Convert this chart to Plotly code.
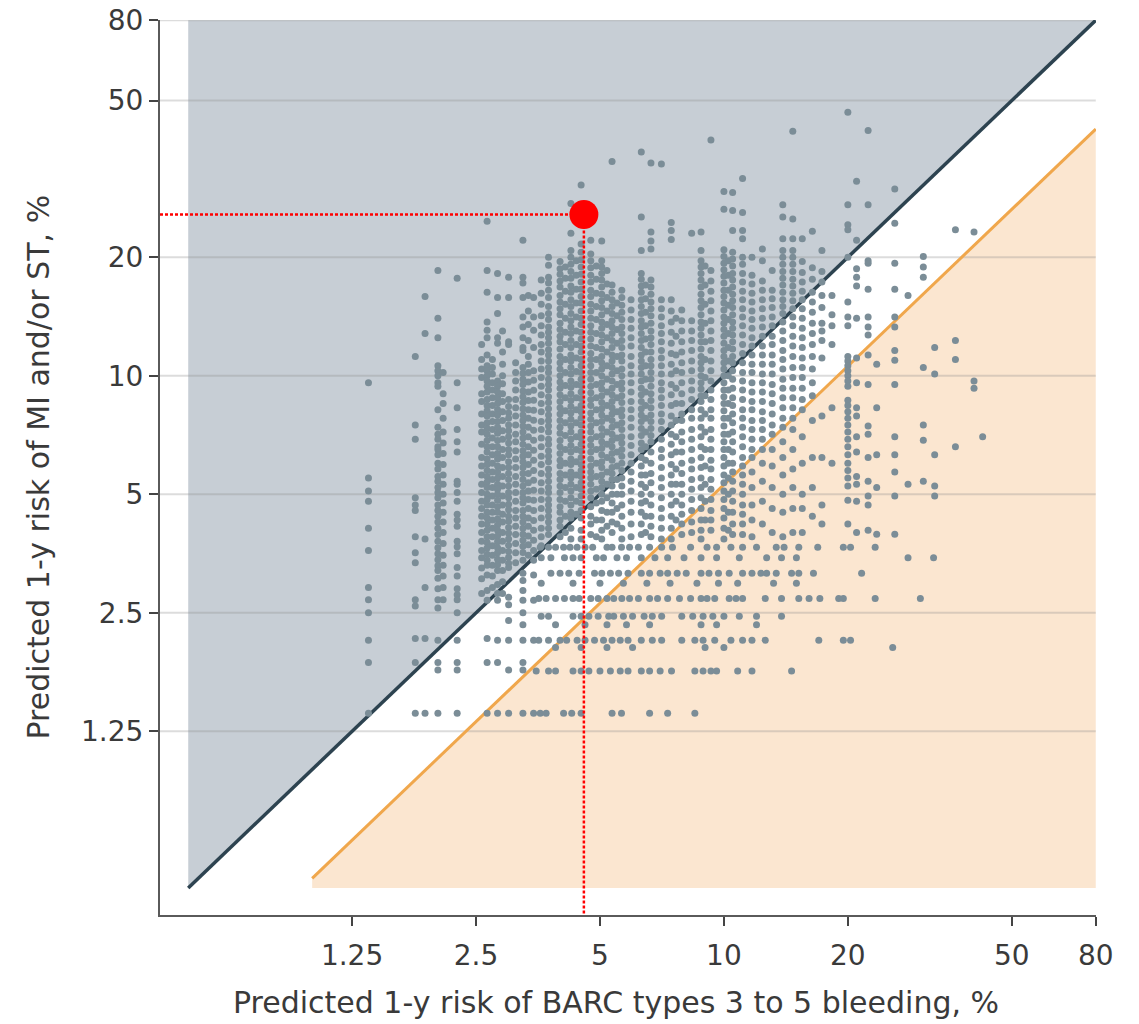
import math
import plotly.graph_objects as go

# ---------------- data ----------------
# Vertical stripes of patients: x = predicted bleeding risk (%), y-list = predicted MI/ST risk (%)
col_x = [1.37, 1.78, 1.88, 2.02, 2.08, 2.25, 2.58, 2.66, 2.74, 2.82, 2.9, 3.0, 3.12, 3.25,
         3.35, 3.45, 3.6, 3.75, 4.0, 4.12, 4.25, 4.38, 4.5, 4.75, 4.9, 5.05, 5.2, 5.35,
         5.5, 5.65, 5.95, 6.3, 6.45, 6.65, 7.05, 7.45, 7.65, 7.9, 8.35, 8.8, 9.0, 9.3,
         10.0, 10.25, 10.5, 11.1, 11.7, 12.4, 13.1, 13.9, 14.7, 15.5, 16.4, 17.3, 18.3,
         20.0, 21.0, 22.4, 23.5, 26.0, 28.0, 30.5, 32.5, 36.5, 40.5, 42.5]
col_y = [
    "9.6 5.5 5.1 4.8 4.1 3.6 2.9 2.7 2.5 2.13 1.87 1.39",
    "11.2 7.5 6.9 4.9 4.7 4.55 3.9 3.55 3.35 2.7 2.6 2.15 1.87 1.39",
    "15.9 12.8 3.85 2.9 2.15 1.39",
    "18.5 14.0 12.5 10.6 10.3 10.0 9.6 9.4 8.2 7.4 7.1 6.9 6.6 6.5 6.3 6.0 5.8 5.55 5.4 5.2 5.05 4.9 4.7 4.55 4.4 4.25 4.1 3.95 3.8 3.66 3.53 3.41 3.29 3.2 3.06 2.88 2.7 2.57 2.13 1.87 1.79 1.39",
    "10.2 9.0 8.5 7.8 7.2 6.75 6.35 5.95 5.6 5.3 5.0 4.75 4.5 4.25 4.0 3.75 3.5 3.3 3.1 2.9 2.7",
    "17.7 9.6 8.3 7.3 6.8 6.4 5.4 5.3 5.05 4.8 4.45 4.3 4.15 3.8 3.68 3.53 3.26 3.1 2.88 2.78 2.7 2.5 2.13 1.87 1.79 1.39",
    "12.0 11.0 10.4 9.9 9.0 8.6 8.0 7.5 7.2 6.7 6.2 5.9 5.6 5.3 5.05 4.8 4.6 4.4 4.2 4.0 3.8 3.6 3.45 3.25 3.05 2.8",
    "24.7 18.5 16.3 13.7 13.05 12.5 11.3 10.6 10.3 10.0 9.7 9.4 9.1 8.7 8.4 8.15 7.9 7.6 7.35 7.1 6.85 6.6 6.4 6.15 5.95 5.75 5.55 5.37 5.2 5.0 4.85 4.7 4.5 4.35 4.2 4.05 3.9 3.77 3.65 3.52 3.4 3.3 3.12 2.85 2.69 2.15 1.87 1.39",
    "11.0 10.5 10.1 9.6 9.2 8.8 8.4 8.0 7.65 7.3 6.95 6.6 6.3 6.0 5.7 5.45 5.2 4.95 4.7 4.5 4.3 4.1 3.9 3.7 3.5 3.3 3.1 2.9",
    "18.2 15.8 14.4 12.5 12.1 9.7 9.4 9.1 8.8 8.5 8.2 7.95 7.65 7.4 7.15 6.85 6.6 6.35 6.15 5.9 5.7 5.5 5.3 5.15 5.0 4.83 4.65 4.5 4.33 4.18 4.05 3.92 3.79 3.66 3.55 3.42 3.31 3.2 2.95 2.8 2.69 2.13 1.87 1.39",
    "13.0 11.5 10.7 10.0 9.55 9.0 8.6 8.1 7.7 7.25 6.9 6.5 6.2 5.85 5.55 5.25 4.95 4.7 4.45 4.25 4.0 3.8 3.6 3.4 3.2 3.0 2.8",
    "17.8 15.8 12.2 12.0 8.7 8.35 8.05 7.8 7.5 7.25 7.0 6.75 6.5 6.3 6.05 5.85 5.65 5.45 5.25 5.05 4.9 4.72 4.57 4.4 4.27 4.12 3.98 3.85 3.71 3.58 3.46 3.34 3.26 2.74 2.62 2.39 2.13 1.79 1.39",
    "10.8 10.2 9.7 9.2 8.7 8.3 7.9 7.5 7.1 6.8 6.45 6.15 5.85 5.55 5.3 5.05 4.8 4.55 4.35 4.15 3.95 3.75 3.55 3.35",
    "22.1 17.8 17.2 15.8 14.1 13.3 12.5 11.8 11.6 10.5 10.15 9.8 9.5 9.15 8.85 8.55 8.25 7.95 7.7 7.45 7.2 6.95 6.7 6.45 6.25 6.05 5.85 5.65 5.45 5.25 5.05 4.9 4.75 4.55 4.4 4.25 4.1 3.96 3.82 3.69 3.56 3.4 3.15 3.02 2.85 2.69 2.5 2.33 2.13 1.87 1.79 1.39",
    "16.0 14.6 13.5 12.3 11.2 10.7 10.2 9.65 9.1 8.65 8.2 7.8 7.4 7.0 6.6 6.3 5.95 5.65 5.35 5.1 4.85 4.6 4.35 4.15 3.92 3.72 3.5",
    "15.8 14.1 13.05 11.8 10.3 9.74 9.19 8.67 8.17 7.71 7.27 6.86 6.47 6.1 5.75 5.43 5.12 4.83 4.55 4.29 4.05 3.82 3.6 3.4 3.12 2.69 2.13 1.39",
    "17.5 16.2 15.2 14.2 13.4 12.7 12.0 11.5 10.9 10.4 9.9 9.4 8.95 8.5 8.1 7.65 7.3 6.95 6.6 6.25 5.95 5.65 5.35 5.1 4.85 4.6 4.35 4.1 3.9 3.7",
    "20.0 19.1 17.8 17.2 16.5 15.8 15.0 14.4 13.9 13.3 12.9 12.5 12.1 11.65 11.3 10.9 10.5 10.2 9.8 9.5 9.2 8.85 8.55 8.25 7.95 7.7 7.45 7.2 6.9 6.7 6.45 6.25 6.05 5.8 5.6 5.4 5.2 5.05 4.85 4.7 4.55 4.4 4.25 4.1 3.95",
    "19.5 18.7 18.1 17.4 16.8 16.0 15.4 14.8 14.3 13.6 13.1 12.6 12.2 11.7 11.2 10.8 10.4 10.0 9.65 9.3 8.95 8.6 8.3 8.0 7.7 7.4 7.15 6.85 6.6 6.35 6.1 5.9 5.65 5.45 5.25 5.05 4.85 4.65 4.5 4.3 4.15 3.9",
    "18.9 17.7 16.4 15.2 14.0 12.9 12.0 11.0 10.2 9.45 8.8 8.15 7.6 7.05 6.5 6.0 5.6 5.2 4.8 4.4 4.0",
    "27.4 23.0 20.8 20.0 19.2 18.4 17.7 16.9 16.3 15.6 15.0 14.4 13.8 13.3 12.8 12.3 11.8 11.3 10.9 10.5 10.1 9.7 9.35 9.0 8.65 8.35 8.05 7.75 7.45 7.2 6.9 6.65 6.4 6.15 5.95 5.7 5.5 5.3 5.1 4.9 4.7 4.5 4.35 4.1 3.85",
    "19.6 18.0 16.6 15.3 14.1 13.0 12.0 11.1 10.25 9.5 8.8 8.2 7.6 7.0 6.5 6.05 5.6 5.2 4.8 4.45",
    "30.5 21.6 20.6 19.7 18.9 18.1 17.3 16.6 15.9 15.3 14.6 14.0 13.5 12.9 12.4 11.9 11.5 11.0 10.6 10.2 9.8 9.45 9.1 8.75 8.4 8.1 7.8 7.5 7.2 6.95 6.7 6.45 6.2 5.95 5.75 5.55 5.35 5.15 4.95 4.75 4.55 4.35 4.05 3.85",
    "22.1 20.4 19.6 18.8 18.0 17.3 16.5 15.9 15.2 14.6 14.0 13.4 12.9 12.4 11.9 11.4 11.0 10.6 10.2 9.8 9.4 9.05 8.7 8.4 8.05 7.75 7.45 7.2 6.9 6.65 6.4 6.15 5.9 5.7 5.5 5.3 5.1 4.9 4.65 4.4 4.2 3.95",
    "19.0 17.6 16.2 15.0 13.9 12.8 11.8 11.0 10.2 9.5 8.8 8.2 7.6 7.0 6.5 6.0 5.55 5.15 4.75 4.3 3.9",
    "22.0 19.6 18.9 18.2 17.5 16.8 16.1 15.5 14.9 14.3 13.7 13.2 12.7 12.2 11.7 11.2 10.8 10.4 10.0 9.6 9.25 8.9 8.55 8.25 7.95 7.65 7.35 7.05 6.8 6.55 6.3 6.05 5.85 5.6 5.4 5.2 5.0 4.8 4.55 4.3 4.05 3.85",
    "18.5 17.1 15.8 14.6 13.5 12.5 11.5 10.6 9.8 9.1 8.4 7.8 7.2 6.7 6.2 5.7 5.3 4.9 4.5 4.15",
    "35.0 17.0 16.3 15.6 15.0 14.4 13.8 13.3 12.8 12.3 11.8 11.3 10.9 10.5 10.1 9.7 9.3 8.95 8.6 8.3 8.0 7.7 7.4 7.1 6.85 6.6 6.35 6.1 5.85 5.65 5.45 5.25 5.0 4.75 4.5 4.25 4.0",
    "15.3 14.2 13.1 12.1 11.2 10.3 9.5 8.8 8.1 7.5 6.95 6.4 5.9 5.45 5.0 4.6 4.2",
    "16.5 15.8 15.1 14.5 13.9 13.3 12.8 12.3 11.8 11.3 10.9 10.4 10.0 9.6 9.25 8.9 8.55 8.2 7.9 7.6 7.3 7.0 6.75 6.5 6.25 6.0 5.75 5.5 5.25 5.0 4.7 4.4 4.1 3.85",
    "15.6 14.7 13.9 13.2 12.5 11.9 11.2 10.6 10.1 9.6 9.1 8.6 8.2 7.8 7.4 7.0 6.65 6.3 6.0 5.7 5.4 5.1 4.8 4.5 4.2 3.9",
    "37.0 25.3 20.8 18.2 17.6 16.9 16.3 15.6 15.0 14.4 13.8 13.3 12.8 12.3 11.8 11.3 10.9 10.5 10.1 9.7 9.3 8.95 8.6 8.25 7.95 7.65 7.35 7.05 6.75 6.5 6.2 5.9 5.6 5.3 5.0 4.75 4.5 4.2 3.95",
    "17.0 15.7 14.5 13.4 12.4 11.5 10.6 9.8 9.1 8.4 7.8 7.2 6.6 6.1 5.6 5.2 4.8 4.4 4.0",
    "34.7 23.2 22.0 21.0 17.5 16.8 16.1 15.4 14.8 14.2 13.6 13.0 12.5 12.0 11.5 11.0 10.6 10.2 9.8 9.4 9.0 8.65 8.3 7.95 7.65 7.35 7.05 6.8 6.4 6.0 5.65 5.35 5.0 4.7 4.4 4.15 3.9",
    "34.5 15.6 14.8 14.1 13.4 12.8 12.2 11.6 11.1 10.6 10.1 9.6 9.2 8.8 8.4 8.0 7.65 7.3 6.9 6.5 6.2 5.85 5.5 5.2 4.9 4.6 4.35 4.1 3.85",
    "24.5 23.4 22.2 15.6 14.6 13.7 12.9 12.1 11.4 10.7 10.1 9.5 8.95 8.4 7.9 7.5 7.1 6.7 6.3 5.95 5.6 5.3 5.0 4.7 4.4 4.1 3.85",
    "14.0 12.6 11.3 10.3 9.3 8.5 7.7 7.0 6.4 5.8 5.3 4.8 4.3",
    "14.7 13.8 13.0 12.2 11.5 10.8 10.2 9.6 9.0 8.5 8.0 7.7 7.2 6.8 6.4 6.0 5.65 5.3 5.0 4.7 4.45 4.2 3.95",
    "23.0 13.8 13.0 12.3 11.6 10.9 10.3 9.7 9.2 8.7 8.2 7.8 7.3 6.9 6.5 6.1 5.8 5.45 5.15 4.85 4.55 4.25 4.0",
    "23.2 20.8 19.6 18.9 18.2 17.5 16.8 16.1 15.5 14.9 14.3 13.7 13.2 12.7 12.2 11.7 11.2 10.8 10.4 10.0 9.6 9.25 8.9 8.6 8.2 7.8 7.4 7.0 6.6 6.2 5.85 5.5 5.2 4.9 4.6 4.3 4.05 3.85",
    "19.0 17.0 15.2 13.6 12.2 11.0 9.9 8.9 8.0 7.2 6.5 5.9 5.3 4.8 4.3",
    "39.7 18.5 17.4 16.4 15.5 14.6 13.8 13.0 12.3 11.6 10.9 10.3 9.7 9.2 8.7 8.2 7.8 7.3 6.9 6.5 6.1 5.8 5.45 5.15 4.85 4.55 4.3 4.05",
    "29.4 26.5 20.9 20.1 19.3 18.6 17.9 17.2 16.5 15.9 15.3 14.7 14.1 13.6 13.1 12.6 12.1 11.6 11.2 10.8 10.4 10.0 9.6 9.2 8.85 8.5 8.15 7.8 7.45 7.1 6.8 6.5 6.2 5.9 5.6 5.35 5.1 4.85 4.6 4.35 4.1 3.85",
    "19.6 18.0 16.5 15.1 13.9 12.8 11.8 10.9 10.0 9.2 8.5 7.8 7.1 6.5 6.0 5.5 5.0 4.5 4.05",
    "29.2 26.3 23.4 20.6 19.8 19.0 18.2 17.5 16.8 16.1 15.5 14.9 14.3 13.7 13.2 12.7 12.2 11.7 11.2 10.8 10.3 9.8 9.3 8.8 8.4 8.0 7.6 7.2 6.8 6.4 6.0 5.7 5.4 5.1 4.8 4.5 4.2 3.95",
    "31.7 26.0 23.4 22.3 20.0 19.2 18.2 17.3 16.4 15.6 14.8 14.1 13.4 12.7 12.0 11.4 10.8 10.2 9.7 9.2 8.7 8.2 7.8 7.4 7.0 6.6 6.2 5.9 5.6 5.3 5.0 4.7 4.45 4.2 3.95",
    "20.0 18.0 17.1 16.2 15.4 14.6 13.9 13.2 12.5 11.9 11.3 10.7 10.2 9.6 9.1 8.6 8.2 7.7 7.3 6.9 6.5 6.2 5.7 5.2 4.7 4.3 3.9",
    "21.0 19.6 17.4 16.5 15.6 14.8 14.0 13.3 12.6 11.9 11.3 10.7 10.1 9.6 9.1 8.6 8.1 7.7 7.3 6.9 6.5 6.0 5.4 4.8 4.2",
    "18.5 16.5 15.7 14.9 14.1 13.4 12.6 12.0 11.3 10.7 10.1 9.5 9.0 8.5 8.0 7.5 7.1 6.5 5.9 5.2 4.6 4.0",
    "27.2 25.3 22.3 20.8 20.0 19.2 18.4 17.7 17.0 16.3 15.6 15.0 14.4 13.7 13.0 12.3 11.6 11.0 10.4 9.8 9.3 8.8 8.3 7.8 7.4 6.8 6.2 5.6 5.0 4.5 3.9",
    "41.8 25.0 22.3 20.8 20.0 19.2 18.4 17.6 16.9 16.2 15.5 14.8 14.1 13.4 12.6 11.9 11.2 10.5 9.9 9.3 8.8 8.3 7.8 7.3 6.5 5.8 5.2 4.6 4.0",
    "22.3 19.5 18.3 17.3 16.4 15.6 14.8 14.0 13.2 12.5 11.8 11.1 10.5 9.9 9.3 8.7 8.2 7.0 6.0 5.0 4.6 4.0",
    "23.3 18.8 17.6 16.3 15.4 14.5 13.6 12.8 12.0 11.2 10.4 9.6 8.9 7.7 6.2 5.2 4.4",
    "20.8 18.4 17.3 16.0 14.9 13.6 13.0 12.3 11.1 7.9 6.2 4.7 4.2",
    "16.0 14.3 13.4 12.0 8.3 6.0",
    "46.7 27.2 24.2 23.5 20.0 15.4 14.1 13.4 11.2 10.9 10.6 10.3 10.0 9.7 9.4 8.67 8.4 8.1 7.8 7.5 7.2 6.9 6.6 6.3 6.0 5.75 5.5 5.25 4.83 4.2",
    "31.2 22.1 18.7 17.8 16.9 14.0 11.1 9.6 8.3 7.9 7.0 6.4 5.55 5.3 4.8 4.0",
    "42.0 27.2 19.6 19.3 16.6 14.1 13.3 12.7 11.3 9.5 7.45 7.1 6.2 5.4 4.95 4.7 4.05",
    "10.7 8.3 6.3 5.2 3.96",
    "29.8 24.4 19.3 16.6 14.1 13.3 11.6 10.95 9.5 7.0 6.3 5.7 4.95 3.96",
    "16.0 5.3",
    "20.1 18.9 17.8 10.5 7.5 6.86 5.4",
    "11.8 10.1 6.3 5.25 4.95",
    "23.5 12.3 11.0 6.6",
    "23.2 9.7 9.3",
    "7.0",
]

# Horizontal rows of patients in the low-ischemic-risk part: y = MI/ST risk (%), x-list = bleeding risk (%)
row_y = [3.67, 3.45, 3.15, 2.97, 2.72, 2.45, 2.33, 2.13, 2.04, 1.78, 1.39]
row_x = [
    "3.58 3.75 3.9 4.08 4.23 4.4 4.6 4.8 5.2 5.35 5.64 5.9 6.2 6.6 7.06 7.5 8.3 9.1 9.6 10.4 11.1 12.0 13.4 14.0 15.2 16.9 19.5 20.3 23.3",
    "3.6 3.8 4.1 4.3 4.5 4.9 5.1 5.5 5.8 6.3 6.8 7.3 8.0 8.8 9.6 10.9 12.7 13.8 15.0 28.0 32.3",
    "3.8 4.0 4.2 4.45 4.85 5.05 5.3 5.55 5.85 6.3 6.6 7.0 7.3 7.7 8.1 8.8 9.2 9.7 10.3 11.1 11.7 12.3 12.7 13.4 14.6 15.2 16.5 21.6",
    "3.6 4.3 5.0 5.7 6.5 7.4 8.6 9.7 10.8 13.2 15.0",
    "3.55 3.7 3.9 4.1 4.3 4.45 4.75 4.95 5.2 5.4 5.65 5.9 6.2 6.6 6.9 7.3 7.8 8.3 8.8 9.1 9.5 10.3 10.7 11.1 12.6 13.8 15.2 16.1 17.1 19.0 19.5 23.3 30.0",
    "3.6 3.75 4.3 4.5 4.7 4.95 5.25 5.4 5.7 6.0 6.4 6.7 7.06 7.9 8.4 8.9 9.4 10.0 10.9 12.0 13.8",
    "3.9 4.6 5.2 5.8 6.6 8.8 9.6 12.0",
    "3.55 3.75 4.0 4.15 4.4 4.6 4.85 5.1 5.35 5.6 5.85 6.3 6.7 7.06 7.9 8.5 8.9 9.5 10.4 11.1 11.7 12.6 17.0 19.5 20.3",
    "3.9 4.5 5.2 6.0 9.0 10.0 25.7",
    "3.5 3.75 3.9 4.3 4.5 4.7 5.0 5.3 5.6 5.85 6.3 6.6 7.0 7.46 8.5 8.9 9.3 9.6 10.8 11.7 14.6",
    "3.58 3.7 4.08 4.27 4.5 5.35 5.64 6.6 7.3 8.5",
]

highlight_x = 4.57   # highlighted patient
highlight_y = 25.7

tick_vals = [1.25, 2.5, 5, 10, 20, 50, 80]
tick_text = ["1.25", "2.5", "5", "10", "20", "50", "80"]
axis_min, axis_max = 0.427, 80
equal_lo, equal_hi = 0.5, 80          # MI risk = bleeding risk line
orange_lo, orange_ratio = 1.0, 1.89    # bleeding-dominant boundary line
fill_floor = 0.5

# ---------------- build ----------------
px, py = [], []
for x, ys in zip(col_x, col_y):
    for v in ys.split():
        px.append(x)
        py.append(float(v))
for y, xs in zip(row_y, row_x):
    for v in xs.split():
        px.append(float(v))
        py.append(y)

fig = go.Figure()

fig.add_trace(go.Scatter(x=[equal_lo, equal_lo, equal_hi], y=[equal_lo, equal_hi, equal_hi],
                         fill="toself", fillcolor="#c7ced5", line=dict(width=0),
                         mode="lines", hoverinfo="skip", showlegend=False))
fig.add_trace(go.Scatter(x=[orange_lo, axis_max, axis_max, orange_lo],
                         y=[orange_lo / orange_ratio, axis_max / orange_ratio, fill_floor, fill_floor],
                         fill="toself", fillcolor="#fbe6d0", line=dict(width=0),
                         mode="lines", hoverinfo="skip", showlegend=False))
gx, gy = [], []
for v in tick_vals:
    gx += [axis_min, axis_max, None]
    gy += [v, v, None]
fig.add_trace(go.Scatter(x=gx, y=gy, mode="lines",
                         line=dict(color="rgba(140,140,140,0.30)", width=2),
                         hoverinfo="skip", showlegend=False))
fig.add_trace(go.Scatter(x=[equal_lo, equal_hi], y=[equal_lo, equal_hi], mode="lines",
                         line=dict(color="#2d4350", width=3.5), hoverinfo="skip", showlegend=False))
fig.add_trace(go.Scatter(x=[orange_lo, axis_max], y=[orange_lo / orange_ratio, axis_max / orange_ratio],
                         mode="lines", line=dict(color="#f0a74c", width=3),
                         hoverinfo="skip", showlegend=False))
fig.add_trace(go.Scatter(x=px, y=py, mode="markers",
                         marker=dict(size=7, color="#7b8d97", line=dict(width=0)),
                         showlegend=False))
fig.add_trace(go.Scatter(x=[axis_min, highlight_x, highlight_x], y=[highlight_y, highlight_y, axis_min],
                         mode="lines", line=dict(color="#ff0000", width=2.5, dash="3px,2px"),
                         hoverinfo="skip", showlegend=False))
fig.add_trace(go.Scatter(x=[highlight_x], y=[highlight_y], mode="markers",
                         marker=dict(size=29, color="#ff0000", line=dict(width=0)),
                         showlegend=False))

rng = [math.log10(axis_min), math.log10(axis_max) + 0.0006]
axis_common = dict(
    type="log", range=rng, automargin=False,
    tickvals=tick_vals, ticktext=tick_text, showgrid=False, zeroline=False,
    showline=True, linecolor="#5a5a5a", linewidth=2, ticks="outside", ticklen=9,
    tickwidth=2, tickcolor="#444444", ticklabeloverflow="allow",
    tickfont=dict(family="DejaVu Sans", size=28, color="#3a3a3a"),
)
fig.update_xaxes(**axis_common, ticklabelstandoff=5)
fig.update_yaxes(**axis_common, ticklabelstandoff=0)

title_font = dict(family="DejaVu Sans", size=30, color="#3a3a3a")
# page body has an 8px margin, so the figure is sized/offset to land the plot where the reference has it
fig.update_layout(
    width=1131, height=1016,
    margin=dict(l=152, r=43, t=12, b=109, autoexpand=False),
    paper_bgcolor="white", plot_bgcolor="white",
    showlegend=False,
    annotations=[
        dict(text="Predicted 1-y risk of BARC types 3 to 5 bleeding, %", xref="paper", yref="paper",
             x=0.4877, y=-0.098, xanchor="center", yanchor="middle", showarrow=False, font=title_font),
        dict(text="Predicted 1-y risk of MI and/or ST, %", xref="paper", yref="paper",
             x=-0.1303, y=0.5, xanchor="center", yanchor="middle", textangle=-90,
             showarrow=False, font=title_font),
    ],
)

fig.write_html("out.html")
